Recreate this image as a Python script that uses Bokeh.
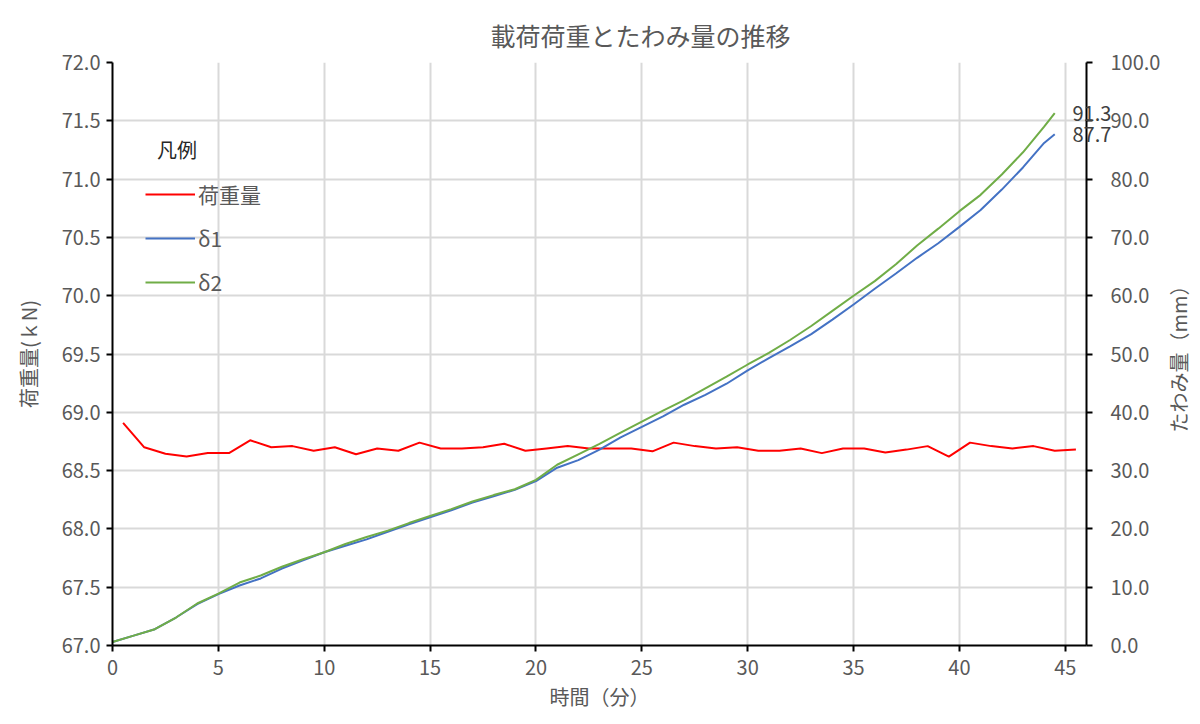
import math
from bokeh.plotting import figure
from bokeh.layouts import row
from bokeh.models import (Range1d, LinearAxis, Legend, LegendItem, Label,
                          SingleIntervalTicker, FixedTicker, PrintfTickFormatter)
from bokeh.embed import file_html
from bokeh.resources import INLINE

FONT = "Noto Sans CJK JP"
TEXT = "#595959"

# ---- texts ----
title_text = "載荷荷重とたわみ量の推移"
x_label = "時間（分）"
y_left_label = "荷重量(ｋN)"
y_right_label = "たわみ量（mm）"
legend_title = "凡例"
name_load = "荷重量"
name_d1 = "δ1"
name_d2 = "δ2"

# ---- data ----
load_time = [0.5, 1.5, 2.5, 3.5, 4.5, 5.5, 6.5, 7.5, 8.5, 9.5,
             10.5, 11.5, 12.5, 13.5, 14.5, 15.5, 16.5, 17.5, 18.5, 19.5,
             20.5, 21.5, 22.5, 23.5, 24.5, 25.5, 26.5, 27.5, 28.5, 29.5,
             30.5, 31.5, 32.5, 33.5, 34.5, 35.5, 36.5, 37.5, 38.5, 39.5,
             40.5, 41.5, 42.5, 43.5, 44.5, 45.5]
load_kn = [68.91, 68.70, 68.645, 68.62, 68.65, 68.65, 68.76, 68.70, 68.71, 68.67,
           68.70, 68.64, 68.69, 68.67, 68.74, 68.69, 68.69, 68.70, 68.73, 68.67,
           68.69, 68.71, 68.69, 68.69, 68.69, 68.665, 68.74, 68.71, 68.69, 68.70,
           68.67, 68.67, 68.69, 68.65, 68.69, 68.69, 68.655, 68.68, 68.71, 68.62,
           68.74, 68.71, 68.69, 68.71, 68.67, 68.68]

defl_time = [0, 1, 2, 3, 4, 5, 6, 7, 8, 9,
             10, 11, 12, 13, 14, 15, 16, 17, 18, 19,
             20, 21, 22, 23, 24, 25, 26, 27, 28, 29,
             30, 31, 32, 33, 34, 35, 36, 37, 38, 39,
             40, 41, 42, 43, 44, 44.5]
delta1 = [0.6, 1.7, 2.8, 4.8, 7.1, 8.8, 10.3, 11.5, 13.2, 14.6,
          16.0, 17.1, 18.2, 19.5, 20.8, 22.0, 23.2, 24.5, 25.6, 26.7,
          28.2, 30.5, 31.8, 33.6, 35.7, 37.5, 39.3, 41.3, 43.0, 44.9,
          47.2, 49.3, 51.3, 53.4, 55.9, 58.5, 61.2, 63.8, 66.5, 69.0,
          71.8, 74.7, 78.2, 82.0, 86.2, 87.7]
delta2 = [0.6, 1.7, 2.8, 4.8, 7.2, 8.9, 10.8, 12.0, 13.5, 14.8,
          16.0, 17.4, 18.6, 19.7, 21.0, 22.2, 23.4, 24.7, 25.8, 26.8,
          28.4, 31.0, 32.8, 34.6, 36.5, 38.4, 40.3, 42.1, 44.1, 46.1,
          48.2, 50.2, 52.4, 54.8, 57.4, 60.0, 62.5, 65.4, 68.6, 71.5,
          74.5, 77.3, 80.8, 84.6, 89.0, 91.3]

MAIN_W = 1166
SIDE_W = 34
H = 724

p = figure(width=MAIN_W, height=H, output_backend="svg", toolbar_location=None,
           x_range=Range1d(0, 46), y_range=Range1d(67, 72),
           min_border_left=112, min_border_right=80,
           min_border_top=62, min_border_bottom=79)
p.extra_y_ranges = {"defl": Range1d(0, 100)}
p.outline_line_color = None
p.background_fill_color = "white"
p.border_fill_color = "white"

# title
p.title.text = title_text
p.title.align = "left"
p.title.offset = 378
p.title.text_font = FONT
p.title.text_font_size = "25px"
p.title.text_font_style = "normal"
p.title.text_color = TEXT
p.title.standoff = 20

def style_axis(ax):
    ax.axis_line_color = "black"
    ax.axis_line_width = 2
    ax.major_tick_line_color = "black"
    ax.major_tick_line_width = 2
    ax.major_tick_out = 6
    ax.major_tick_in = 0
    ax.minor_tick_line_color = None
    ax.major_label_text_font = FONT
    ax.major_label_text_font_size = "20px"
    ax.major_label_text_color = TEXT
    ax.axis_label_text_font = FONT
    ax.axis_label_text_font_size = "20px"
    ax.axis_label_text_font_style = "normal"
    ax.axis_label_text_color = TEXT

xax = p.xaxis[0]
xax.ticker = SingleIntervalTicker(interval=5, num_minor_ticks=0)
xax.axis_label = x_label
style_axis(xax)
xax.major_label_standoff = 8
xax.axis_label_standoff = 4

yax = p.yaxis[0]
yax.ticker = SingleIntervalTicker(interval=0.5, num_minor_ticks=0)
yax.formatter = PrintfTickFormatter(format="%.1f")
yax.axis_label = y_left_label
style_axis(yax)
yax.major_label_standoff = 6
yax.axis_label_standoff = 16

rax = LinearAxis(y_range_name="defl",
                 ticker=SingleIntervalTicker(interval=10, num_minor_ticks=0),
                 formatter=PrintfTickFormatter(format="%.1f"))
style_axis(rax)
rax.major_label_standoff = 18
p.add_layout(rax, "right")

# end-value labels of the two deflection series, drawn as labels of a bare axis
end_ax = LinearAxis(y_range_name="defl",
                    ticker=FixedTicker(ticks=[delta2[-1], delta1[-1]]),
                    formatter=PrintfTickFormatter(format="%.1f"))
end_ax.axis_line_color = None
end_ax.major_tick_line_color = None
end_ax.minor_tick_line_color = None
end_ax.major_tick_out = 0
end_ax.major_tick_in = 0
end_ax.major_label_standoff = -91
end_ax.major_label_text_font = FONT
end_ax.major_label_text_font_size = "20px"
end_ax.major_label_text_color = "#404040"
p.add_layout(end_ax, "right")

p.xgrid.ticker = SingleIntervalTicker(interval=5, num_minor_ticks=0)
for g in (p.xgrid[0], p.ygrid[0]):
    g.grid_line_color = "#d9d9d9"
    g.grid_line_width = 2

r_load = p.line(load_time, load_kn, line_color="#ff0000", line_width=2)
r_d1 = p.line(defl_time, delta1, line_color="#4472c4", line_width=2, y_range_name="defl")
r_d2 = p.line(defl_time, delta2, line_color="#70ad47", line_width=2, y_range_name="defl")

legend = Legend(items=[LegendItem(label=name_load, renderers=[r_load]),
                       LegendItem(label=name_d1, renderers=[r_d1]),
                       LegendItem(label=name_d2, renderers=[r_d2])],
                location=(33, 348), orientation="vertical",
                padding=0, margin=0, spacing=14,
                glyph_width=50, glyph_height=20, label_height=20,
                label_standoff=3, border_line_color=None,
                background_fill_alpha=0,
                label_text_font=FONT, label_text_font_size="21px",
                label_text_color=TEXT)
p.add_layout(legend, "center")

p.add_layout(Label(x=2.1, y=71.255, text=legend_title, text_font=FONT,
                   text_font_size="20px", text_color="#262626",
                   text_baseline="middle"))

# narrow side strip holding the right-hand axis title (reads bottom to top)
side = figure(width=SIDE_W, height=H, output_backend="svg", toolbar_location=None,
              x_range=Range1d(0, SIDE_W), y_range=Range1d(0, H),
              min_border=0)
side.axis.visible = False
side.grid.visible = False
side.outline_line_color = None
side.background_fill_color = "white"
side.border_fill_color = "white"
side.add_layout(Label(x=12, y=H / 2, text=y_right_label, angle=math.pi / 2,
                      text_align="center", text_baseline="middle",
                      text_font=FONT, text_font_size="20px", text_color=TEXT))

layout = row(p, side)
open("out.html", "w").write(file_html(layout, INLINE))
